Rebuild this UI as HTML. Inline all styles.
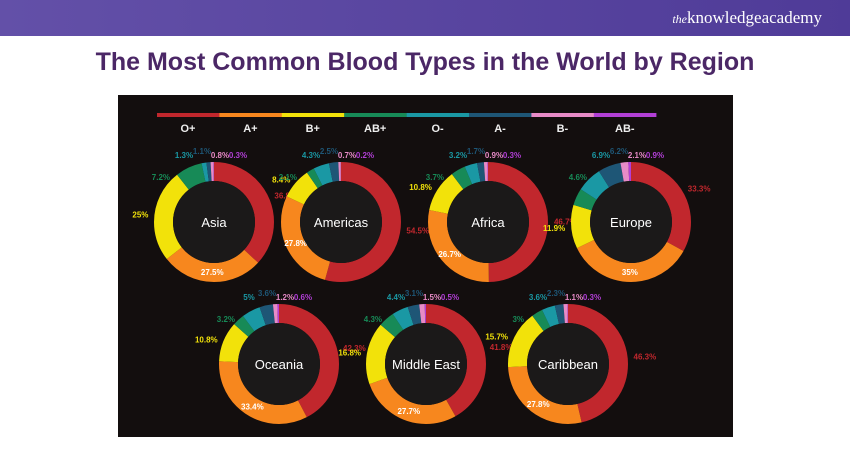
<!DOCTYPE html>
<html><head><meta charset="utf-8"><style>
body{margin:0;width:850px;height:450px;background:#fff;position:relative;overflow:hidden;font-family:"Liberation Sans",sans-serif}
#ban{position:absolute;left:0;top:0;width:850px;height:36px;background:linear-gradient(90deg,#6350a8,#4f3b98)}
#logo{position:absolute;right:28px;top:8px;color:#fff;font-family:"Liberation Serif",serif;font-size:17px}
#title{position:absolute;top:48px;width:850px;text-align:center;font-size:25px;font-weight:bold;color:#4b2766}
#chart{position:absolute;left:118px;top:95px;width:615px;height:342px;background:#130e0e}
svg{position:absolute;left:0;top:0}
</style></head><body>
<div id="ban"><div id="logo"><i style="font-size:12px">the</i>knowledgeacademy</div></div>
<div id="title">The Most Common Blood Types in the World by Region</div>
<div id="chart"></div>
<svg id="s" width="850" height="450"></svg>
<script>
var C=["#c1272d","#f7871e","#f2e20a","#178a57","#1a98a4","#1e5676","#e78bc7","#b23fd6"];
var N=["O+","A+","B+","AB+","O-","A-","B-","AB-"];
var D=[["Asia",214,222,[36.8,27.5,25,7.2,1.3,1.1,0.8,0.3]],
["Americas",341,222,[54.5,27.8,8.4,2.1,4.3,2.5,0.7,0.2]],
["Africa",488,222,[46.7,26.7,10.8,3.7,3.2,1.7,0.9,0.3]],
["Europe",631,222,[33.3,35,11.9,4.6,6.9,6.2,2.1,0.9]],
["Oceania",279,364,[42.3,33.4,10.8,3.2,5,3.6,1.2,0.6]],
["Middle East",426,364,[41.8,27.7,16.8,4.3,4.4,3.1,1.5,0.5]],
["Caribbean",568,364,[46.3,27.8,15.7,3,3.6,2.3,1.1,0.3]]];
var h="";
for(var i=0;i<8;i++){h+='<rect x="'+(157+i*62.4)+'" y="113" width="62.6" height="4" fill="'+C[i]+'"/>';
h+='<text x="'+(188+i*62.4)+'" y="132" fill="#eee" font-size="11" font-weight="bold" text-anchor="middle">'+N[i]+'</text>';}
D.forEach(function(d){var cx=d[1],cy=d[2],v=d[3],t=0,s=0;v.forEach(function(x){t+=x});
var r=50.5,L=2*Math.PI*r;
v.forEach(function(x,k){var len=x/t*L;
h+='<circle cx="'+cx+'" cy="'+cy+'" r="'+r+'" fill="none" stroke="'+C[k]+'" stroke-width="19" stroke-dasharray="'+len+' '+(L-len)+'" stroke-dashoffset="'+(-s)+'" transform="rotate(-90 '+cx+' '+cy+')"/>';
var a=(s+len/2)/L*2*Math.PI-Math.PI/2;
if(k<3){var R=k==2?66:66;var lx=cx+Math.cos(a)*R,ly=cy+Math.sin(a)*R+3;
var inside=(k==1);if(inside){lx=cx+Math.cos(a)*50;ly=cy+Math.sin(a)*50+3;}
h+='<text x="'+lx+'" y="'+ly+'" fill="'+(inside?"#fff":C[k])+'" font-size="8" font-weight="bold" text-anchor="'+(inside?"middle":(Math.cos(a)>0.2?"start":(Math.cos(a)<-0.2?"end":"middle")))+'">'+x+'%</text>';}
s+=len;});
var off=[-38,-20,-12,4,20];
h+='<text x="'+(cx-44)+'" y="'+(cy-42)+'" fill="'+C[3]+'" font-size="8" font-weight="bold" text-anchor="end">'+v[3]+'%</text>';
h+='<text x="'+(cx-30)+'" y="'+(cy-64)+'" fill="'+C[4]+'" font-size="8" font-weight="bold" text-anchor="middle">'+v[4]+'%</text>';
h+='<text x="'+(cx-12)+'" y="'+(cy-68)+'" fill="'+C[5]+'" font-size="8" font-weight="bold" text-anchor="middle">'+v[5]+'%</text>';
h+='<text x="'+(cx+6)+'" y="'+(cy-64)+'" fill="'+C[6]+'" font-size="8" font-weight="bold" text-anchor="middle">'+v[6]+'%</text>';
h+='<text x="'+(cx+24)+'" y="'+(cy-64)+'" fill="'+C[7]+'" font-size="8" font-weight="bold" text-anchor="middle">'+v[7]+'%</text>';
h+='<circle cx="'+cx+'" cy="'+cy+'" r="41" fill="#1b1919"/>';
h+='<text x="'+cx+'" y="'+(cy+5)+'" fill="#fff" font-size="13" text-anchor="middle">'+d[0]+'</text>';
});
document.getElementById("s").innerHTML=h;
</script>
</body></html>
